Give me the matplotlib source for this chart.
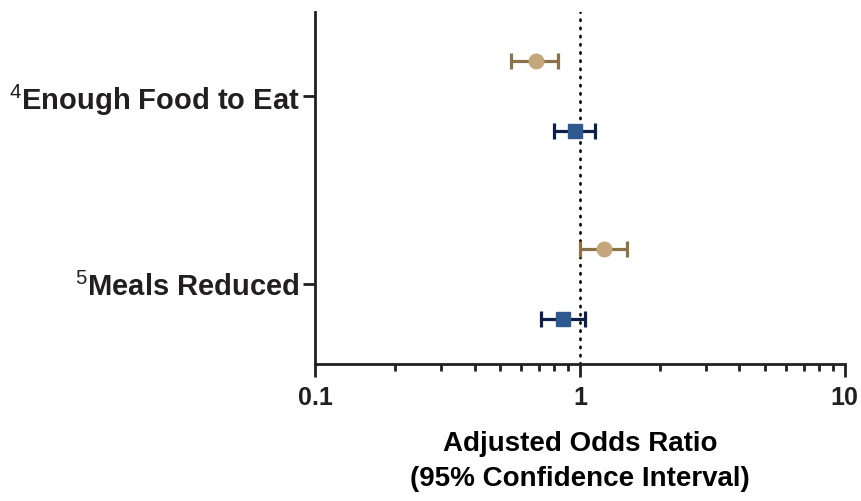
import matplotlib
matplotlib.use("Agg")
import matplotlib.pyplot as plt
import numpy as np

plt.rcParams['font.family'] = ['Liberation Sans', 'DejaVu Sans']
plt.rcParams['mathtext.fontset'] = 'custom'
plt.rcParams['mathtext.rm'] = 'Liberation Sans'
plt.rcParams['text.color'] = '#231F20'

# outcomes (top to bottom)
outcomes = [r"$^{4}$Enough Food to Eat", r"$^{5}$Meals Reduced"]

# tan group (circles)
tan_or = [0.68, 1.23]
tan_lo = [0.55, 1.00]
tan_hi = [0.83, 1.51]

# blue group (squares)
blue_or = [0.955, 0.865]
blue_lo = [0.80, 0.71]
blue_hi = [1.14, 1.05]

xticks = [0.1, 1, 10]
xtick_labels = ["0.1", "1", "10"]

fig = plt.figure(figsize=(8.61, 5.01), dpi=100)
ax = fig.add_axes([0.366, 0.273, 0.615, 0.703])

pos = np.arange(len(outcomes))
off = 0.186

tan_or = np.array(tan_or)
blue_or = np.array(blue_or)
ax.errorbar(tan_or, pos - off,
            xerr=[tan_or - np.array(tan_lo), np.array(tan_hi) - tan_or],
            fmt='o', color='#C4A77D', ecolor='#8C7248', elinewidth=2.3,
            capsize=6, capthick=2.3, markersize=10.5, zorder=3)
ax.errorbar(blue_or, pos + off,
            xerr=[blue_or - np.array(blue_lo), np.array(blue_hi) - blue_or],
            fmt='s', color='#2F5890', ecolor='#0E1F48', elinewidth=2.3,
            capsize=6, capthick=2.3, markersize=10, zorder=3)

ax.axvline(1, color='black', lw=1.9, dashes=(0.5, 2.6),
           dash_capstyle='round', zorder=1)

ax.set_xscale('log')
ax.set_xlim(0.1, 10)
ax.set_ylim(1.426, -0.447)
ax.set_xticks(xticks)
ax.set_xticklabels(xtick_labels, fontsize=18, fontweight='bold')
ax.set_yticks(pos)
ax.set_yticklabels(outcomes, fontsize=21, fontweight='bold')

for s in ['top', 'right']:
    ax.spines[s].set_visible(False)
for s in ['left', 'bottom']:
    ax.spines[s].set_linewidth(2)
    ax.spines[s].set_color('#231F20')

ax.tick_params(axis='x', which='major', length=9, width=2, color='#231F20',
               pad=7, labelcolor='#231F20')
ax.tick_params(axis='x', which='minor', length=5, width=2, color='#231F20')
ax.tick_params(axis='y', length=9, width=2, color='#231F20', pad=2,
               labelcolor='#231F20')

ax.set_xlabel("Adjusted Odds Ratio\n(95% Confidence Interval)",
              fontsize=20, fontweight='bold', labelpad=15, linespacing=1.42)

fig.savefig("out.png", dpi=100)
